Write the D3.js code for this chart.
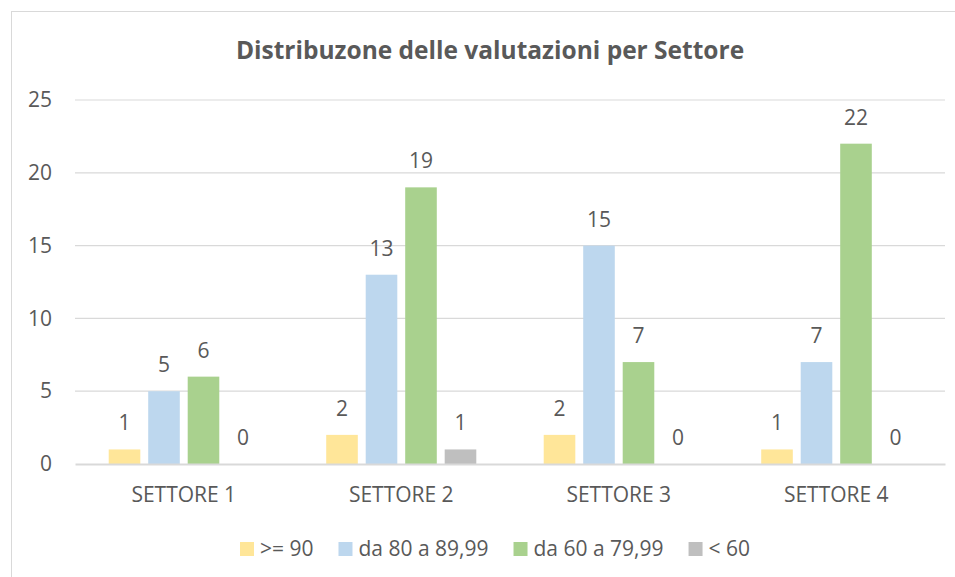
<!DOCTYPE html>
<html>
<head>
<meta charset="utf-8">
<script src="https://cdn.jsdelivr.net/npm/d3@7"></script>
<style>
  html, body { margin: 0; padding: 0; background: #fff; }
  text { font-family: "Open Sans", Lato, sans-serif; fill: #595959; }
</style>
</head>
<body>
<div id="chart"></div>
<script>
const categories = ["SETTORE 1", "SETTORE 2", "SETTORE 3", "SETTORE 4"];
const seriesNames = [">= 90", "da 80 a 89,99", "da 60 a 79,99", "< 60"];
const seriesColors = ["#FFE699", "#BDD7EE", "#A9D18E", "#BFBFBF"];
const ge90 = [1, 2, 2, 1];
const da80 = [5, 13, 15, 7];
const da60 = [6, 19, 7, 22];
const lt60 = [0, 1, 0, 0];
const yTicks = [0, 5, 10, 15, 20, 25];

const seriesValues = [ge90, da80, da60, lt60];
const data = categories.map((c, i) => ({
  cat: c,
  vals: seriesNames.map((s, j) => ({ series: s, value: seriesValues[j][i], color: seriesColors[j] }))
}));

const W = 955, H = 577;
const margin = { top: 100, right: 10, bottom: 113, left: 75 };
const width = W - margin.left - margin.right;
const height = H - margin.top - margin.bottom;
const fs = "21px";

const svg = d3.select("#chart").append("svg")
  .attr("width", W).attr("height", H);

// chart border
svg.append("rect")
  .attr("x", 11.5).attr("y", 11.5)
  .attr("width", 960).attr("height", 600)
  .attr("fill", "none").attr("stroke", "#D9D9D9").attr("stroke-width", 1);

svg.append("text")
  .attr("x", 490).attr("y", 59)
  .attr("text-anchor", "middle")
  .style("font-size", "24.5px").style("font-weight", "bold")
  .text("Distribuzone delle valutazioni per Settore");

const g = svg.append("g").attr("transform", `translate(${margin.left},${margin.top})`);

const x0 = d3.scaleBand().domain(categories).range([0, width]).paddingInner(0.31).paddingOuter(0.155);
const x1 = d3.scaleBand().domain(seriesNames).range([0, x0.bandwidth()]).paddingInner(0.2);
const y = d3.scaleLinear().domain([0, 25]).range([height, 0]);

// gridlines
g.selectAll(".grid").data(yTicks.filter(d => d > 0)).enter().append("line")
  .attr("x1", 0).attr("x2", width)
  .attr("y1", d => y(d)).attr("y2", d => y(d))
  .attr("stroke", "#D9D9D9").attr("stroke-width", 1.2);

// y axis labels
const yAxis = g.append("g").call(d3.axisLeft(y).tickValues(yTicks).tickSize(0).tickPadding(23));
yAxis.select(".domain").remove();
yAxis.selectAll("text")
  .attr("text-anchor", "end")
  .style("font-size", fs).style("fill", "#595959").attr("font-family", null);

// bars
const groups = g.selectAll(".cat").data(data).enter().append("g")
  .attr("transform", d => `translate(${x0(d.cat)},0)`);

groups.selectAll("rect").data(d => d.vals).enter().append("rect")
  .attr("x", d => x1(d.series))
  .attr("width", x1.bandwidth())
  .attr("y", d => y(d.value))
  .attr("height", d => height - y(d.value))
  .attr("fill", d => d.color);

groups.selectAll(".lbl").data(d => d.vals).enter().append("text")
  .attr("x", d => x1(d.series) + x1.bandwidth() / 2)
  .attr("y", d => y(d.value) - 19)
  .attr("text-anchor", "middle")
  .style("font-size", fs)
  .text(d => d.value);

// x axis
const xAxis = g.append("g").attr("transform", `translate(0,${height})`)
  .call(d3.axisBottom(x0).tickSize(0).tickPadding(23));
xAxis.select(".domain").attr("stroke", "#D9D9D9").attr("stroke-width", 2);
xAxis.selectAll("text").style("font-size", fs).style("fill", "#595959").attr("font-family", null);

// legend, laid out from the text widths
const legend = svg.append("g");
let lx = 240;
seriesNames.forEach((s, i) => {
  legend.append("rect").attr("x", lx).attr("y", 542).attr("width", 14).attr("height", 14)
    .attr("fill", seriesColors[i]);
  const t = legend.append("text").attr("x", lx + 20).attr("y", 556)
    .style("font-size", fs).text(s);
  lx += 20 + t.node().getComputedTextLength() + 25;
});
</script>
</body>
</html>
